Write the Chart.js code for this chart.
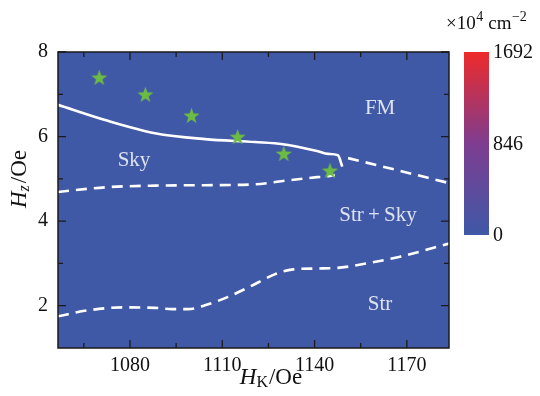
<!DOCTYPE html>
<html><head><meta charset="utf-8">
<script src="https://cdn.jsdelivr.net/npm/chart.js@4/dist/chart.umd.min.js"></script>
<style>html,body{margin:0;padding:0;background:#fff}#wrap{width:540px;height:396px}</style>
</head><body><div id="wrap"><canvas id="c" width="540" height="396"></canvas></div>
<script>
// ---- data ----
const starX = [1070, 1085, 1100, 1115, 1130, 1145];
const starY = [7.4, 7.0, 6.5, 6.0, 5.6, 5.2];
const solidX = [1056.6, 1071.9, 1088.1, 1104.4, 1120.6, 1129.7, 1140.8, 1144.4, 1147.6, 1149.0];
const solidY = [6.75, 6.39, 6.08, 5.94, 5.87, 5.82, 5.66, 5.59, 5.56, 5.29];
const midX = [1056.6, 1071.9, 1088.1, 1104.4, 1120.6, 1129.7, 1140.8, 1144.4, 1146.6];
const midY = [4.69, 4.80, 4.84, 4.85, 4.87, 4.95, 5.04, 5.06, 5.09];
const lowX = [1056.6, 1066.3, 1077.4, 1088.1, 1093.7, 1098.9, 1104.4, 1111.9, 1118.4, 1127.7, 1133.0, 1140.7, 1148.3, 1157.0, 1167.8, 1183.7];
const lowY = [1.75, 1.89, 1.96, 1.95, 1.92, 1.92, 2.01, 2.21, 2.43, 2.76, 2.86, 2.88, 2.90, 3.00, 3.16, 3.47];
const fmX = [1150.9, 1162.2, 1183.7];
const fmY = [5.49, 5.29, 4.90];
const xTickLabels = [1080, 1110, 1140, 1170];
const xMinorTicks = [1065, 1095, 1125, 1155];
const yTickLabels = [2, 4, 6, 8];
const yMinorTicks = [3, 5, 7];
const cbTicks = [0, 846, 1692];
const regionLabels = ["FM", "Sky", "Str\u2009+\u2009Sky", "Str"];
const regionX = [1161.3, 1081.3, 1160.6, 1161.3];
const regionY = [6.67, 5.44, 4.14, 2.04];

const pts = (xs, ys) => xs.map((x, i) => ({x, y: ys[i]}));

// filled 5-point star image
function makeStar(R, color) {
  const c = document.createElement('canvas');
  const s = Math.ceil(R * 2 + 2);
  c.width = s; c.height = s;
  const g = c.getContext('2d');
  g.fillStyle = color;
  g.beginPath();
  const cx = s / 2, cy = s / 2 + R * 0.1, r = R * 0.4;
  for (let i = 0; i < 10; i++) {
    const a = -Math.PI / 2 + i * Math.PI / 5;
    const rr = i % 2 ? r : R;
    g.lineTo(cx + rr * Math.cos(a), cy + rr * Math.sin(a));
  }
  g.closePath(); g.fill();
  return c;
}
const starImg = makeStar(8.5, '#6cbb45');

const SERIF = '"Liberation Serif", "DejaVu Serif", serif';

const decor = {
  id: 'decor',
  beforeDatasetsDraw(chart) {
    const {ctx, chartArea: a} = chart;
    ctx.save();
    ctx.fillStyle = '#4059a7';
    ctx.fillRect(a.left, a.top, a.right - a.left, a.bottom - a.top);
    ctx.restore();
  },
  afterDatasetsDraw(chart) {
    const {ctx, chartArea: a, scales} = chart;
    const xs = scales.x, ys = scales.y;
    ctx.save();
    // region labels
    ctx.fillStyle = 'rgba(228,232,244,0.96)';
    ctx.font = '21px ' + SERIF;
    ctx.textAlign = 'center'; ctx.textBaseline = 'middle';
    regionLabels.forEach((t, i) => {
      ctx.fillText(t, xs.getPixelForValue(regionX[i]), ys.getPixelForValue(regionY[i]));
    });
    // frame
    ctx.strokeStyle = '#1a1a1a'; ctx.lineWidth = 1.5;
    ctx.strokeRect(a.left, a.top, a.right - a.left, a.bottom - a.top);
    // ticks
    ctx.lineWidth = 1.3;
    ctx.beginPath();
    const tx = (v, L) => { const p = xs.getPixelForValue(v);
      ctx.moveTo(p, a.bottom); ctx.lineTo(p, a.bottom - L);
      ctx.moveTo(p, a.top); ctx.lineTo(p, a.top + L); };
    const ty = (v, L) => { const p = ys.getPixelForValue(v);
      ctx.moveTo(a.left, p); ctx.lineTo(a.left + L, p);
      ctx.moveTo(a.right, p); ctx.lineTo(a.right - L, p); };
    xTickLabels.forEach(v => tx(v, 8)); xMinorTicks.forEach(v => tx(v, 5));
    yTickLabels.forEach(v => ty(v, 8)); yMinorTicks.forEach(v => ty(v, 5));
    ctx.stroke();

    // axis titles
    ctx.fillStyle = '#111';
    ctx.textAlign = 'left'; ctx.textBaseline = 'alphabetic';
    const drawParts = (parts) => {
      let w = 0;
      parts.forEach(p => { ctx.font = p.f; w += ctx.measureText(p.t).width + (p.gap || 0); });
      let x = -w / 2;
      parts.forEach(p => { ctx.font = p.f; ctx.fillText(p.t, x, p.dy || 0); x += ctx.measureText(p.t).width + (p.gap || 0); });
    };
    ctx.save();
    ctx.translate(271, 384);
    drawParts([{t: 'H', f: 'italic 23px ' + SERIF, gap: 0}, {t: 'K', f: '16px ' + SERIF, dy: 3, gap: 1}, {t: '/Oe', f: '23px ' + SERIF}]);
    ctx.restore();
    ctx.save();
    ctx.translate(26, 179);
    ctx.rotate(-Math.PI / 2);
    drawParts([{t: 'H', f: 'italic 23px ' + SERIF, gap: 0}, {t: 'z', f: 'italic 16px ' + SERIF, dy: 3, gap: 2}, {t: '/Oe', f: '23px ' + SERIF}]);
    ctx.restore();

    // colorbar
    const cbL = 464, cbR = 489, cbT = 52, cbB = 235;
    const cbMin = cbTicks[0], cbMax = cbTicks[cbTicks.length - 1];
    const grad = ctx.createLinearGradient(0, cbB, 0, cbT);
    grad.addColorStop(0, '#3f58a7');
    grad.addColorStop(0.5, '#7e3d90');
    grad.addColorStop(1, '#ee2a2a');
    ctx.fillStyle = grad;
    ctx.fillRect(cbL, cbT, cbR - cbL, cbB - cbT);
    ctx.fillStyle = '#111';
    ctx.font = '20px ' + SERIF;
    ctx.textBaseline = 'middle'; ctx.textAlign = 'left';
    cbTicks.forEach(v => {
      const py = cbB - (v - cbMin) / (cbMax - cbMin) * (cbB - cbT);
      ctx.fillText(String(v), 493, py + 1);
    });
    // unit label
    ctx.textBaseline = 'alphabetic';
    let x0 = 446;
    const part = (t, f, dy, gap) => { ctx.font = f; ctx.fillText(t, x0, 29 + dy); x0 += ctx.measureText(t).width + gap; };
    part('×10', '19px ' + SERIF, 0, 0.5);
    part('4', '14px ' + SERIF, -8, 5);
    part('cm', '19px ' + SERIF, 0, 0.5);
    part('−2', '14px ' + SERIF, -8, 0);
    ctx.restore();
  }
};

const lineDs = (data, dash) => ({
  data, showLine: true, borderColor: '#ffffff', borderWidth: 2.6,
  borderDash: dash, pointRadius: 0, pointHoverRadius: 0, tension: 0.35,
  cubicInterpolationMode: 'monotone', fill: false, borderCapStyle: 'butt'
});

new Chart(document.getElementById('c'), {
  type: 'scatter',
  data: {
    datasets: [
      {data: pts(starX, starY), pointStyle: starImg, pointRadius: 9, showLine: false, order: 0},
      Object.assign(lineDs(pts(solidX, solidY), []), {order: 1}),
      Object.assign(lineDs(pts(midX, midY), [11, 7]), {order: 1}),
      Object.assign(lineDs(pts(lowX, lowY), [11, 7]), {order: 1}),
      Object.assign(lineDs(pts(fmX, fmY), [11, 7]), {order: 1})
    ]
  },
  options: {
    responsive: false, animation: false, devicePixelRatio: 1,
    layout: {padding: {left: 0, top: 52, right: 91, bottom: 0}},
    plugins: {legend: {display: false}, tooltip: {enabled: false}},
    scales: {
      x: {
        type: 'linear', min: 1056.6, max: 1183.7,
        grid: {display: false, drawTicks: false}, border: {display: false},
        afterBuildTicks: s => { s.ticks = xTickLabels.map(v => ({value: v})); },
        afterFit: s => { s.height = 48; },
        ticks: {font: {family: SERIF, size: 20}, color: '#111', padding: 6, maxRotation: 0,
          callback: v => String(v)}
      },
      y: {
        type: 'linear', min: 1, max: 8,
        grid: {display: false, drawTicks: false}, border: {display: false},
        afterBuildTicks: s => { s.ticks = yTickLabels.map(v => ({value: v})); },
        afterFit: s => { s.width = 58; },
        ticks: {font: {family: SERIF, size: 20}, color: '#111', padding: 10,
          callback: v => String(v)}
      }
    }
  },
  plugins: [decor]
});
</script></body></html>
